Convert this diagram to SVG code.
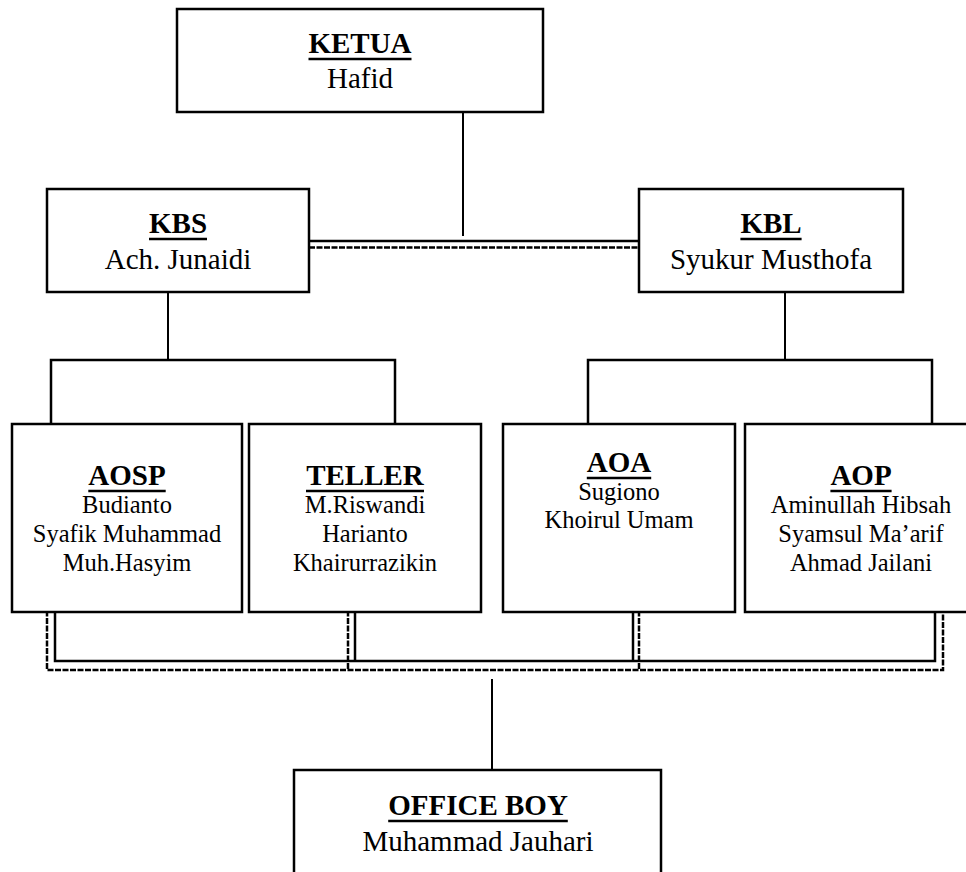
<svg xmlns="http://www.w3.org/2000/svg" width="966" height="872" viewBox="0 0 966 872">
<style>
.box{fill:#fff;stroke:#000;stroke-width:2.5}
.h{font-family:"Liberation Serif","Times New Roman",serif;font-weight:bold;font-size:29px;text-anchor:middle;fill:#000}
.n1{font-family:"Liberation Serif","Times New Roman",serif;font-size:29px;text-anchor:middle;fill:#000}
.n2{font-family:"Liberation Serif","Times New Roman",serif;font-size:24.5px;text-anchor:middle;fill:#000}
.ul{stroke:#000;stroke-width:2.5}
.c{fill:none;stroke:#000;stroke-width:2}
.cb{fill:none;stroke:#000;stroke-width:2.5}
.d{fill:none;stroke:#000;stroke-width:2.5;stroke-dasharray:6 1.5}
</style>
<rect width="966" height="872" fill="#fff"/>
<g id="connectors">
<line class="c" x1="463" y1="112" x2="463" y2="236"/>
<line class="cb" x1="309" y1="241" x2="639" y2="241"/>
<line class="d" x1="309" y1="247.5" x2="639" y2="247.5"/>
<line class="c" x1="168" y1="292" x2="168" y2="360"/>
<polyline class="cb" points="51,424 51,360 395,360 395,424"/>
<line class="c" x1="785" y1="292" x2="785" y2="360"/>
<polyline class="cb" points="588,424 588,360 932,360 932,424"/>
<polyline class="cb" points="55,603 55,661 935,661 935,603"/>
<line class="cb" x1="355" y1="603" x2="355" y2="661"/>
<line class="cb" x1="633" y1="603" x2="633" y2="661"/>
<polyline class="d" points="47,603 47,670 943,670 943,603"/>
<line class="d" x1="348" y1="603" x2="348" y2="670"/>
<line class="d" x1="639" y1="603" x2="639" y2="670"/>
<line class="c" x1="492" y1="679" x2="492" y2="770"/>
</g>
<g id="ketua">
<rect class="box" x="177" y="9" width="366" height="103"/>
<text class="h" x="360" y="53">KETUA</text>
<line class="ul" x1="308.5" y1="59" x2="411.5" y2="59"/>
<text class="n1" x="360" y="88">Hafid</text>
</g>
<g id="kbs">
<rect class="box" x="47" y="189" width="262" height="103"/>
<text class="h" x="178" y="233">KBS</text>
<line class="ul" x1="149" y1="239" x2="207" y2="239"/>
<text class="n1" x="178" y="269">Ach. Junaidi</text>
</g>
<g id="kbl">
<rect class="box" x="639" y="189" width="264" height="103"/>
<text class="h" x="771" y="233">KBL</text>
<line class="ul" x1="740.4" y1="239" x2="801.6" y2="239"/>
<text class="n1" x="771" y="269">Syukur Musthofa</text>
</g>
<g id="aosp">
<rect class="box" x="12" y="424" width="230" height="188"/>
<text class="h" x="127" y="485">AOSP</text>
<line class="ul" x1="88.3" y1="491" x2="165.7" y2="491"/>
<text class="n2" x="127" y="513">Budianto</text>
<text class="n2" x="127" y="542">Syafik Muhammad</text>
<text class="n2" x="127" y="571">Muh.Hasyim</text>
</g>
<g id="teller">
<rect class="box" x="249" y="424" width="232" height="188"/>
<text class="h" x="365" y="485">TELLER</text>
<line class="ul" x1="306" y1="491" x2="424" y2="491"/>
<text class="n2" x="365" y="513">M.Riswandi</text>
<text class="n2" x="365" y="542">Harianto</text>
<text class="n2" x="365" y="571">Khairurrazikin</text>
</g>
<g id="aoa">
<rect class="box" x="503" y="424" width="232" height="188"/>
<text class="h" x="619" y="472">AOA</text>
<line class="ul" x1="586.8" y1="478" x2="651.2" y2="478"/>
<text class="n2" x="619" y="500">Sugiono</text>
<text class="n2" x="619" y="528">Khoirul Umam</text>
</g>
<g id="aop">
<rect class="box" x="745" y="424" width="232" height="188"/>
<text class="h" x="861" y="485">AOP</text>
<line class="ul" x1="830.4" y1="491" x2="891.6" y2="491"/>
<text class="n2" x="861" y="513">Aminullah Hibsah</text>
<text class="n2" x="861" y="542">Syamsul Ma’arif</text>
<text class="n2" x="861" y="571">Ahmad Jailani</text>
</g>
<g id="office-boy">
<rect class="box" x="294" y="770" width="367" height="120"/>
<text class="h" x="478" y="815">OFFICE BOY</text>
<line class="ul" x1="388.2" y1="821" x2="567.8" y2="821"/>
<text class="n1" x="478" y="851">Muhammad Jauhari</text>
</g>
</svg>
